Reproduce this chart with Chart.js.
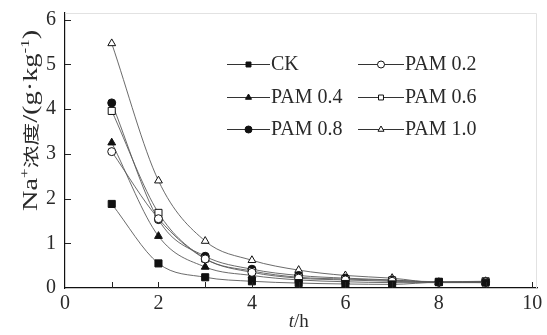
<!DOCTYPE html>
<html lang="en">
<head>
    <meta charset="UTF-8">
    <title>Na+ concentration</title>
    <script src="https://cdn.jsdelivr.net/npm/chart.js"></script>
    <style>
        body { margin: 0; padding: 0; background: #fff; }
        #wrap { width: 547px; height: 335px; }
    </style>
</head>
<body>
    <div id="wrap"><canvas id="naChart" width="547" height="335"></canvas></div>

    <script>
        // time (h)
        const hours = [1, 2, 3, 4, 5, 6, 7, 8, 9];
        const seriesNames = ['CK', 'PAM 0.2', 'PAM 0.4', 'PAM 0.6', 'PAM 0.8', 'PAM 1.0'];
        const ck     = [1.88, 0.55, 0.24, 0.15, 0.11, 0.09, 0.08, 0.13, 0.12];
        const pam02  = [3.05, 1.55, 0.65, 0.35, 0.22, 0.18, 0.15, 0.13, 0.14];
        const pam04  = [3.25, 1.16, 0.47, 0.28, 0.18, 0.14, 0.12, 0.12, 0.12];
        const pam06  = [3.96, 1.68, 0.66, 0.38, 0.24, 0.20, 0.17, 0.14, 0.15];
        const pam08  = [4.14, 1.53, 0.71, 0.42, 0.28, 0.22, 0.18, 0.13, 0.13];
        const pam10  = [5.47, 2.40, 1.05, 0.62, 0.40, 0.28, 0.22, 0.12, 0.15];
        const xTickLabels = ['0', '2', '4', '6', '8', '10'];
        const yTickLabels = ['0', '1', '2', '3', '4', '5', '6'];

        const allValues = [ck, pam02, pam04, pam06, pam08, pam10];
        const shapes = ['rect', 'circle', 'triangle', 'rect', 'circle', 'triangle'];
        const filled = [true, false, true, false, true, false];

        const serif = '"Liberation Serif", "DejaVu Serif", serif';
        const textColor = '#2a2a2a';

        const datasets = seriesNames.map((name, i) => ({
            label: name,
            data: hours.map((h, j) => ({ x: h, y: allValues[i][j] })),
            borderColor: '#5a5a5a',
            borderWidth: 0.9,
            pointStyle: shapes[i],
            pointRadius: shapes[i] === 'rect' ? 5 : (shapes[i] === 'circle' ? 4 : 4.5),
            pointBorderColor: '#111',
            pointBorderWidth: 1,
            pointBackgroundColor: filled[i] ? '#111' : '#fff',
            cubicInterpolationMode: 'monotone',
            fill: false
        }));

        // y title pieces: [text, font, raise]
        const yTitleParts = [
            ['Na', '20px ' + serif, 0],
            ['+', '12px ' + serif, 8],
            ['浓度', '16px "Noto Sans CJK SC"', 0],
            ['/(g·kg', '20px ' + serif, 0],
            ['-1', '12px ' + serif, 8],
            [')', '20px ' + serif, 0]
        ];

        // draws the frame, inward ticks, axis titles and the in-plot legend
        const decorPlugin = {
            id: 'decor',
            afterDraw(chart) {
                const ctx = chart.ctx;
                const a = chart.chartArea;
                const xs = chart.scales.x, ys = chart.scales.y;
                ctx.save();

                // faint top/right frame
                ctx.strokeStyle = '#e2e2e2';
                ctx.lineWidth = 1;
                ctx.beginPath();
                ctx.moveTo(a.left, a.top + 0.5);
                ctx.lineTo(a.right - 0.5, a.top + 0.5);
                ctx.lineTo(a.right - 0.5, a.bottom);
                ctx.stroke();

                // inward ticks
                ctx.strokeStyle = '#222';
                ctx.beginPath();
                for (let v = 1; v <= 10; v++) {
                    const px = Math.round(xs.getPixelForValue(v)) + 0.5;
                    ctx.moveTo(px, a.bottom);
                    ctx.lineTo(px, a.bottom - 6);
                }
                for (let v = 1; v <= 6; v++) {
                    const py = Math.round(ys.getPixelForValue(v)) + 0.5;
                    ctx.moveTo(a.left, py);
                    ctx.lineTo(a.left + 6, py);
                }
                ctx.stroke();

                // x title: italic t + /h
                ctx.fillStyle = textColor;
                ctx.textBaseline = 'alphabetic';
                const cx = (xs.getPixelForValue(0) + xs.getPixelForValue(10)) / 2;
                ctx.font = 'italic 19px ' + serif;
                const tw = ctx.measureText('t').width;
                ctx.font = '19px ' + serif;
                const hw = ctx.measureText('/h').width;
                const startX = cx - (tw + hw) / 2;
                ctx.font = 'italic 19px ' + serif;
                ctx.textAlign = 'left';
                ctx.fillText('t', startX, 327);
                ctx.font = '19px ' + serif;
                ctx.fillText('/h', startX + tw, 327);

                // y title (rotated, drawn piece by piece, stretched like the original)
                ctx.save();
                ctx.translate(37, 211);
                ctx.rotate(-Math.PI / 2);
                ctx.scale(1.42, 1);
                let cur = 0;
                yTitleParts.forEach(([txt, font, raise]) => {
                    ctx.font = font;
                    ctx.fillText(txt, cur, -raise);
                    cur += ctx.measureText(txt).width;
                });
                ctx.restore();

                // legend, two columns
                const cols = [{ x0: 227, x1: 270 }, { x0: 358, x1: 404 }];
                const rows = [64, 97, 129];
                ctx.font = '20px ' + serif;
                ctx.textAlign = 'left';
                ctx.textBaseline = 'middle';
                chart.data.datasets.forEach((ds, i) => {
                    const c = cols[i % 2];
                    const y = rows[Math.floor(i / 2)];
                    ctx.strokeStyle = '#333';
                    ctx.lineWidth = 1;
                    ctx.beginPath();
                    ctx.moveTo(c.x0, y + 0.5);
                    ctx.lineTo(c.x1, y + 0.5);
                    ctx.stroke();
                    ctx.fillStyle = filled[i] ? '#111' : '#fff';
                    ctx.strokeStyle = '#111';
                    Chart.helpers.drawPoint(ctx, {
                        pointStyle: ds.pointStyle,
                        radius: 3.5,
                        borderWidth: 1
                    }, (c.x0 + c.x1) / 2, y + 0.5);
                    ctx.fillStyle = textColor;
                    ctx.fillText(ds.label, c.x1 + 1, y + 1);
                });
                ctx.restore();
            }
        };

        new Chart(document.getElementById('naChart').getContext('2d'), {
            type: 'line',
            data: { datasets: datasets },
            options: {
                responsive: false,
                animation: false,
                layout: { padding: { top: 11, right: 10, left: 0, bottom: 0 } },
                plugins: {
                    legend: { display: false },
                    tooltip: { enabled: false }
                },
                scales: {
                    x: {
                        type: 'linear',
                        min: 0,
                        max: 10.1,
                        afterFit(scale) { scale.height = 47; },
                        afterBuildTicks(scale) {
                            scale.ticks = xTickLabels.map(t => ({ value: Number(t) }));
                        },
                        grid: { display: false },
                        border: { display: true, color: '#111', width: 1.2 },
                        ticks: {
                            color: textColor,
                            padding: -4,
                            maxRotation: 0,
                            font: { family: serif, size: 20 },
                            callback: (v) => String(v)
                        }
                    },
                    y: {
                        min: 0,
                        max: 6.15,
                        afterFit(scale) { scale.width = 65; },
                        afterBuildTicks(scale) {
                            scale.ticks = yTickLabels.map(t => ({ value: Number(t) }));
                        },
                        grid: { display: false },
                        border: { display: true, color: '#111', width: 1.2 },
                        ticks: {
                            color: textColor,
                            padding: 1,
                            font: { family: serif, size: 20 },
                            callback: (v) => String(v)
                        }
                    }
                }
            },
            plugins: [decorPlugin]
        });
    </script>
</body>
</html>
